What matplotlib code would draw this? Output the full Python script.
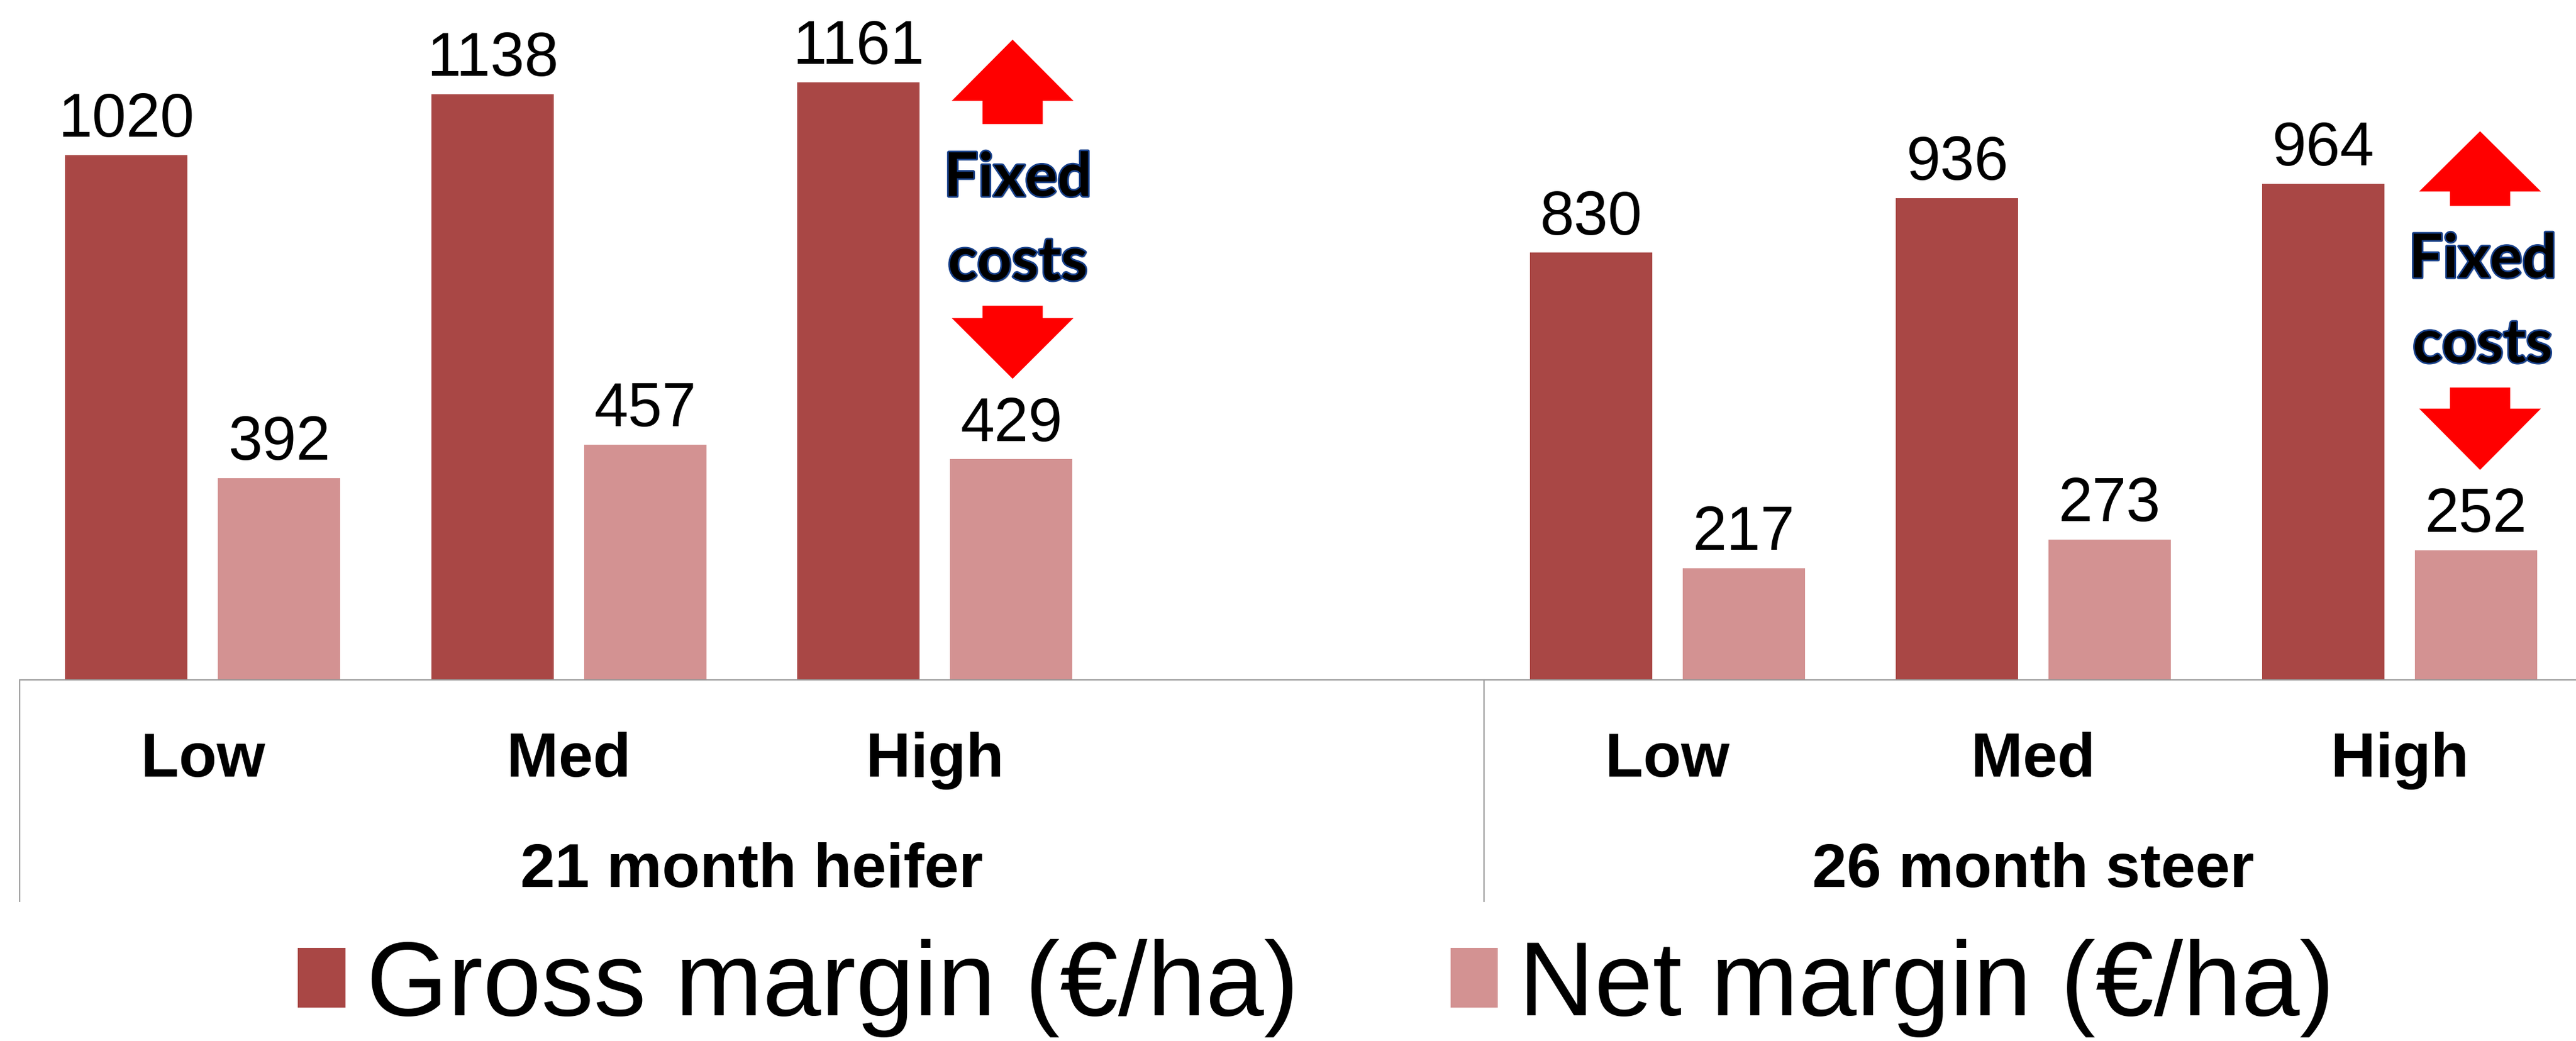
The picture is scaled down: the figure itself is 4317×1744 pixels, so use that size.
###############################################################################
# Gross and net margin per ha for two beef systems, by stocking level
###############################################################################

#Libraries importation:--------------------------------------------------------

import numpy as np
import matplotlib.pyplot as plt
import matplotlib.patheffects as pe
from matplotlib.patches import FancyArrow
from matplotlib.transforms import blended_transform_factory

#Data:-------------------------------------------------------------------------

levels = ['Low', 'Med', 'High', '', 'Low', 'Med', 'High']
groups = ['21 month heifer', '26 month steer']
group_bounds = [(-0.5, 3.5), (3.5, 6.5)]
gross_margin = [1020, 1138, 1161, np.nan, 830, 936, 964]
net_margin = [392, 457, 429, np.nan, 217, 273, 252]
series_names = ['Gross margin (€/ha)', 'Net margin (€/ha)']

#Style:------------------------------------------------------------------------

plt.rcParams['font.family'] = ['Liberation Sans', 'DejaVu Sans']
gross_col = '#A94745'
net_col = '#D39292'
line_col = '#9a9a9a'
bar_w = 0.334
bar_off = 0.2086

#Figure:-----------------------------------------------------------------------

fig = plt.figure(figsize=(43.17, 17.44), dpi=100)
ax = fig.add_axes([0.00764, 0.3469, 0.99491, 0.6531])

x = np.arange(len(levels))
b1 = ax.bar(x - bar_off, gross_margin, width=bar_w, color=gross_col,
            label=series_names[0])
b2 = ax.bar(x + bar_off, net_margin, width=bar_w, color=net_col,
            label=series_names[1])

for xs, vals in [(x - bar_off, gross_margin), (x + bar_off, net_margin)]:
    for xi, v in zip(xs, vals):
        if np.isnan(v):
            continue
        ax.annotate(f'{v:.0f}', (xi, v), xytext=(0, 22),
                    textcoords='offset points', ha='center', va='baseline',
                    fontsize=74)

ax.set_xlim(-0.5, 6.5)
ax.set_ylim(0, 1321)
ax.set_xticks([])
ax.set_yticks([])
for s in ['top', 'left', 'right']:
    ax.spines[s].set_visible(False)
ax.spines['bottom'].set_color(line_col)
ax.spines['bottom'].set_linewidth(1.5)

#Category axis labels:---------------------------------------------------------

tr_fig = blended_transform_factory(ax.transData, fig.transFigure)
tr_ax = blended_transform_factory(ax.transData, ax.transAxes)

for xi, lvl in zip(x, levels):
    ax.text(xi, 0.254, lvl, transform=tr_fig, ha='center', va='baseline',
            fontsize=75, fontweight='bold')

for (lo, hi), g in zip(group_bounds, groups):
    ax.text((lo + hi) / 2, 0.1479, g, transform=tr_fig, ha='center',
            va='baseline', fontsize=75, fontweight='bold')
    for b in (lo, hi):
        ax.plot([b, b], [0, -0.3257], transform=tr_ax, color=line_col,
                lw=1.5, clip_on=False)

#Fixed costs annotations:------------------------------------------------------

# (x, up shaft bottom, up tip, up head base, down shaft top, down tip, down head base)
arrows = [(2.212, 1080, 1244, 1125, 727, 585, 703),
          (6.220, 921, 1066, 949, 568, 408, 527)]
fixed_txt = [(2.226, 940, 777), (6.227, 782, 617)]

for xa, u0, u1, uh, d0, d1, dh in arrows:
    ax.add_patch(FancyArrow(xa, u0, 0, u1 - u0, width=0.1646,
                            head_width=0.3325, head_length=u1 - uh,
                            length_includes_head=True, color='#FF0000', lw=0))
    ax.add_patch(FancyArrow(xa, d0, 0, d1 - d0, width=0.1646,
                            head_width=0.3325, head_length=dh - d1,
                            length_includes_head=True, color='#FF0000', lw=0))

effects = [pe.SimplePatchShadow(offset=(2, -2), shadow_rgbFace='#888888',
                                alpha=0.4),
           pe.withStroke(linewidth=4, foreground='#17408B')]
for xt, y_top, y_bot in fixed_txt:
    for yt, word in [(y_top, 'Fixed'), (y_bot, 'costs')]:
        ax.text(xt, yt, word, ha='center', va='baseline', fontsize=73,
                fontweight='bold', family=['Lato', 'DejaVu Sans'],
                color='black', path_effects=effects)

#Legend:-----------------------------------------------------------------------

fig.legend(handles=[b1, b2], labels=series_names, loc='center',
           bbox_to_anchor=(0.511, 0.051), ncol=2, frameon=False,
           fontsize=126.5, handlelength=0.45, handleheight=0.5,
           handletextpad=0.2, columnspacing=1.45)

fig.savefig('out.png', dpi=100)
